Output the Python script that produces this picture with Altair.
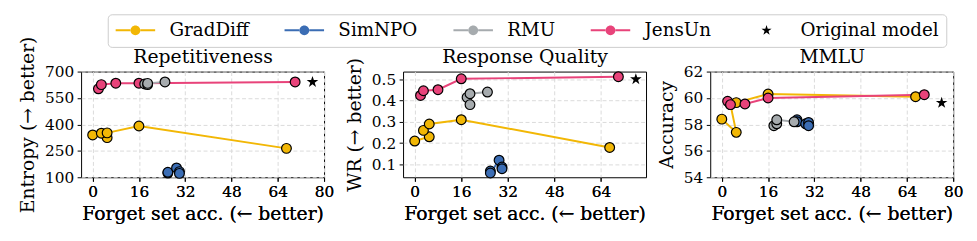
import math
import altair as alt
import pandas as pd

# ---------------- data ----------------
methods = ["GradDiff", "SimNPO", "RMU", "JensUn"]
legend_names = methods + ["Original model"]
method_colors = ["#F2B705", "#3B6DB4", "#A6ABAE", "#E8437A"]

graddiff_forget = [0, 5, 3, 5, 16, 67]
graddiff_rep = [340, 325, 350, 352, 391, 264]
graddiff_wr = [0.21, 0.23, 0.26, 0.29, 0.31, 0.18]
graddiff_mmlu = [58.4, 57.4, 59.5, 59.65, 60.3, 60.1]

simnpo_forget = [26, 26, 29, 30, 30]
simnpo_rep = [124, 128, 153, 132, 122]
simnpo_wr = [0.069, 0.06, 0.12, 0.088, 0.08]
simnpo_mmlu = [58.35, 58.2, 58.05, 58.15, 57.9]

rmu_forget = [18, 19, 19, 25]
rmu_rep = [630, 626, 633, 641]
rmu_wr = [0.415, 0.381, 0.432, 0.44]
rmu_mmlu = [57.9, 58.05, 58.35, 58.2]

jensun_forget = [2, 3, 8, 16, 70]
jensun_rep = [602, 626, 634, 634, 641]
jensun_wr = [0.424, 0.446, 0.451, 0.502, 0.512]
jensun_mmlu = [59.75, 59.5, 59.55, 60.0, 60.25]

orig_forget = [76]
orig_rep = [641]
orig_wr = [0.50]
orig_mmlu = [59.63]

panel_titles = ["Repetitiveness", "Response Quality", "MMLU"]
y_titles = ["Entropy (→ better)", "WR (→ better)", "Accuracy"]
x_title = "Forget set acc. (← better)"
x_ticks_full = [0, 16, 32, 48, 64, 80]
x_ticks_mid = [0, 16, 32, 48, 64]
rep_ticks = [100, 250, 400, 550, 700]
wr_ticks = [0.1, 0.2, 0.3, 0.4, 0.5]
mmlu_ticks = [54, 56, 58, 60, 62]

# ---------------- tables ----------------
series = {
    "GradDiff": (graddiff_forget, graddiff_rep, graddiff_wr, graddiff_mmlu),
    "SimNPO": (simnpo_forget, simnpo_rep, simnpo_wr, simnpo_mmlu),
    "JensUn": (jensun_forget, jensun_rep, jensun_wr, jensun_mmlu),
    "RMU": (rmu_forget, rmu_rep, rmu_wr, rmu_mmlu),
}
rows = []
for m, (fx, rp, wr, mm) in series.items():
    for i in range(len(fx)):
        rows.append({"method": m, "ord": i, "forget": fx[i], "rep": rp[i], "wr": wr[i], "mmlu": mm[i]})
df = pd.DataFrame(rows)
star_df = pd.DataFrame({"method": ["Original model"], "forget": orig_forget,
                        "rep": orig_rep, "wr": orig_wr, "mmlu": orig_mmlu})


def star_path(R):
    r = R * 0.382
    pts = []
    for i in range(10):
        ang = math.radians(-90 + 36 * i)
        rad = R if i % 2 == 0 else r
        pts.append((rad * math.cos(ang), rad * math.sin(ang)))
    return "M" + "L".join(f"{x:.4f},{y:.4f}" for x, y in pts) + "Z"


# legend/marker glyphs; the leading move-tos give every legend entry the same extent
PAD = "M-1,0M1,0"
CIRCLE = PAD + "M-0.25,0A0.25,0.25,0,1,1,0.25,0A0.25,0.25,0,1,1,-0.25,0Z"
STAR = PAD + star_path(0.27)
FONT = "DejaVu Serif"
TITLE_SIZE = 19
TICK_SIZE = 15.5
LEG_SIZE = 18.5

fill_scale = alt.Scale(domain=legend_names, range=method_colors + ["black"])
shape_scale = alt.Scale(domain=legend_names, range=[CIRCLE] * 4 + [STAR])
stroke_scale = alt.Scale(domain=methods, range=method_colors)

LX, LY = 27, -58
common_legend = dict(title=None, orient="none", legendX=LX, legendY=LY, direction="horizontal",
                     symbolSize=1600, clipHeight=18, labelFont=FONT, labelFontSize=LEG_SIZE,
                     labelOffset=13.5, columnPadding=35, padding=7, labelLimit=400)
point_legend = alt.Legend(symbolStrokeColor="black", symbolStrokeWidth=1.2, labelColor="black",
                          strokeColor="#cccccc", cornerRadius=4, **common_legend)
line_legend = alt.Legend(symbolType="M-1,0L-0.25,0M0.25,0L1,0", symbolStrokeWidth=2,
                         labelOpacity=0, labelColor="white", **common_legend)


def panel(metric, title, ytitle, ydomain, yticks, yformat, xdomain, xticks):
    xscale = alt.Scale(domain=xdomain, nice=False, zero=False)
    x = alt.X("forget:Q", scale=xscale,
              axis=alt.Axis(values=xticks, format="d", title=x_title, orient="bottom"))
    x_top = alt.X("forget:Q", scale=xscale,
                  axis=alt.Axis(orient="top", title=title, labels=False, ticks=False, domain=False,
                                grid=False, titlePadding=5, titleFontSize=TITLE_SIZE))
    y = alt.Y(f"{metric}:Q", scale=alt.Scale(domain=ydomain, nice=False, zero=False),
              axis=alt.Axis(values=yticks, format=yformat, title=ytitle, titlePadding=7))
    base = alt.Chart(df)
    lines = base.mark_line(strokeWidth=2).encode(
        x=x, y=y,
        stroke=alt.Stroke("method:N", scale=stroke_scale, legend=line_legend),
        order="ord:Q")
    pts = base.mark_point(filled=True, size=1560, stroke="black", strokeWidth=1.2, opacity=1).encode(
        x=x, y=y,
        fill=alt.Fill("method:N", scale=fill_scale, legend=point_legend),
        shape=alt.Shape("method:N", scale=shape_scale, legend=point_legend))
    star = alt.Chart(star_df).mark_point(filled=True, shape=star_path(0.27), size=2077,
                                         color="black", opacity=1).encode(x=x_top, y=y)
    return alt.layer(lines, pts, star).properties(width=246, height=107)


p1 = panel("rep", panel_titles[0], y_titles[0], [100, 700], rep_ticks, "d", [-4, 80], x_ticks_full)
p2 = panel("wr", panel_titles[1], y_titles[1], [0.04, 0.536], wr_ticks, ".1f", [-4, 79.5], x_ticks_mid)
p3 = panel("mmlu", panel_titles[2], y_titles[2], [54, 62], mmlu_ticks, "d", [-4, 80], x_ticks_full)

chart = alt.concat(p1, p2, p3, columns=3, spacing=10,
                   align={"row": "all", "column": "each"}).properties(
    padding={"left": 10, "top": 4, "right": 5, "bottom": 2}
).configure_view(stroke="black", strokeWidth=1).configure_axis(
    labelFont=FONT, labelFontSize=TICK_SIZE, labelColor="black",
    titleFont=FONT, titleFontSize=TITLE_SIZE, titleFontWeight="normal", titleColor="black",
    tickColor="black", tickSize=4, domain=False, grid=True, gridColor="#dadada",
    gridDash=[4, 2.5], gridWidth=1, labelFlush=False, labelPadding=3.5, titlePadding=5,
    labelOverlap=False,
)

chart.save("out.html", embed_options={"renderer": "svg", "actions": False})
